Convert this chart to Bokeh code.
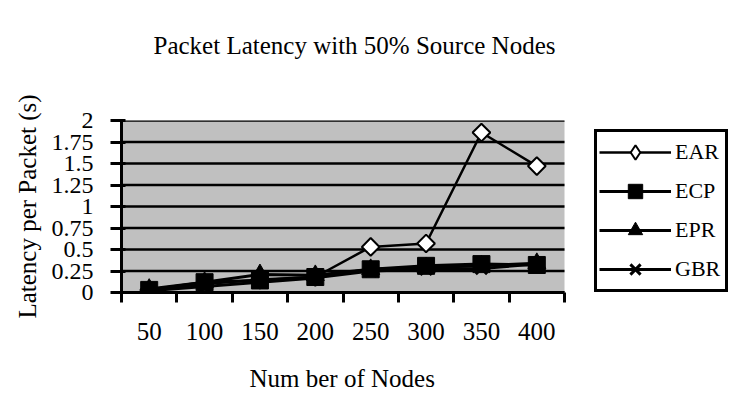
import math
from bokeh.plotting import figure
from bokeh.models import (FixedTicker, Legend, LegendItem, ColumnDataSource,
                          Range1d, BoxAnnotation, LinearAxis, Title)
from bokeh.embed import file_html
from bokeh.resources import INLINE

# ---- data ----
nodes = ["50", "100", "150", "200", "250", "300", "350", "400"]
ear = [0.03, 0.10, 0.15, 0.18, 0.53, 0.57, 1.86, 1.47]
ecp = [0.03, 0.12, 0.14, 0.18, 0.27, 0.31, 0.33, 0.32]
epr = [0.04, 0.12, 0.21, 0.20, 0.27, 0.29, 0.31, 0.34]
gbr = [0.02, 0.07, 0.12, 0.17, 0.25, 0.27, 0.28, 0.33]
y_ticks = [0, 0.25, 0.5, 0.75, 1, 1.25, 1.5, 1.75, 2]
y_tick_labels = ["0", "0.25", "0.5", "0.75", "1", "1.25", "1.5", "1.75", "2"]

FONT = "Liberation Serif"
N = len(nodes)

# layout (pixels): plot area 443 px wide, legend lives to its right
W, H = 735, 418
LEFT = 121
PLOT_W = 443
FRAME_W = W - LEFT
x_end = N * FRAME_W / PLOT_W

x_pos = [i + 0.5 for i in range(N)]
src = ColumnDataSource(dict(x=x_pos, ear=ear, ecp=ecp, epr=epr, gbr=gbr))

p = figure(width=W, height=H, output_backend="svg", toolbar_location=None,
           x_range=Range1d(0, x_end), y_range=Range1d(y_ticks[0], y_ticks[-1]))
p.min_border_left = LEFT
p.min_border_right = 0
p.min_border_top = 120
p.min_border_bottom = 126
p.background_fill_color = "white"
p.border_fill_color = "white"
p.outline_line_color = None

p.title.text = "Packet Latency with 50% Source Nodes"
p.title.text_font = FONT
p.title.text_font_size = "25px"
p.title.text_font_style = "normal"
p.title.text_color = "black"
p.title.align = "left"
p.title.vertical_align = "bottom"
p.title.offset = 32
p.title.standoff = 0

# x axis (the figure's own bottom axis)
xa = p.below[0]
xa.bounds = (0, N)
xa.ticker = FixedTicker(ticks=x_pos, minor_ticks=list(range(N + 1)))
xa.major_label_overrides = {x: n for x, n in zip(x_pos, nodes)}
xa.major_tick_out = 0
xa.major_tick_in = 0
xa.minor_tick_out = 10
xa.minor_tick_in = 0
xa.minor_tick_line_color = "black"
xa.minor_tick_line_width = 3
xa.axis_line_width = 3
xa.axis_line_color = "black"
xa.major_label_text_font = FONT
xa.major_label_text_font_size = "25px"
xa.major_label_text_color = "black"
xa.major_label_standoff = 20

# invisible spacer axis between the title and the plot area
spacer = LinearAxis(ticker=FixedTicker(ticks=x_pos[:1], minor_ticks=[]),
                    major_label_overrides={x_pos[0]: ""},
                    major_label_text_font_size="0px",
                    major_tick_out=62, major_tick_in=0, major_label_standoff=0,
                    axis_line_color=None, major_tick_line_color=None,
                    minor_tick_line_color=None)
p.add_layout(spacer, "above")

# plot area background
p.add_layout(BoxAnnotation(left=0, right=N, bottom=y_ticks[0], top=y_ticks[-1],
                           fill_color="#c0c0c0", fill_alpha=1, line_color=None,
                           level="underlay"))

p.add_layout(Title(text="Num ber of Nodes", text_font=FONT,
                   text_font_size="25px", text_font_style="normal",
                   text_color="black", align="left", vertical_align="top",
                   offset=128, standoff=45), "below")

# y axis
ya = p.left[0]
ya.ticker = FixedTicker(ticks=y_ticks, minor_ticks=[])
ya.major_label_overrides = {(int(t) if float(t).is_integer() else t): l
                            for t, l in zip(y_ticks, y_tick_labels)}
ya.major_tick_out = 11
ya.major_tick_in = 4
ya.major_tick_line_width = 3
ya.major_tick_line_color = "black"
ya.axis_line_width = 3
ya.axis_line_color = "black"
ya.major_label_text_font = FONT
ya.major_label_text_font_size = "24px"
ya.major_label_text_color = "black"
ya.major_label_standoff = 17
ya.axis_label = "Latency per Packet (s)"
ya.axis_label_text_font = FONT
ya.axis_label_text_font_size = "25px"
ya.axis_label_text_font_style = "normal"
ya.axis_label_text_color = "black"
ya.axis_label_standoff = 8

# horizontal grid lines, limited to the plot area
p.xgrid.visible = False
p.ygrid.visible = False
p.segment(x0=0, x1=N, y0=y_ticks, y1=y_ticks, line_color="black",
          line_width=2.5)

# series
ear_l = p.line("x", "ear", source=src, line_color="black", line_width=2.5)
p.scatter("x", "ear", source=src, marker="square", angle=math.pi / 4, size=12.5,
          fill_color="white", line_color="black", line_width=2)
ecp_l = p.line("x", "ecp", source=src, line_color="black", line_width=3)
ecp_m = p.scatter("x", "ecp", source=src, marker="square", size=17,
                  fill_color="black", line_color="black")
epr_l = p.line("x", "epr", source=src, line_color="black", line_width=3)
epr_m = p.scatter("x", "epr", source=src, marker="triangle", size=18,
                  fill_color="black", line_color="black")
gbr_l = p.line("x", "gbr", source=src, line_color="black", line_width=3)
gbr_m = p.scatter("x", "gbr", source=src, marker="x", size=16,
                  line_color="black", line_width=3)

# legend proxy for the diamond (legend markers are drawn unrotated)
ear_key = p.scatter(x=[float("nan")], y=[float("nan")], marker="diamond",
                    fill_color="white", line_color="black", line_width=2)

legend = Legend(items=[
    LegendItem(label="EAR", renderers=[ear_l, ear_key]),
    LegendItem(label="ECP", renderers=[ecp_l, ecp_m]),
    LegendItem(label="EPR", renderers=[epr_l, epr_m]),
    LegendItem(label="GBR", renderers=[gbr_l, gbr_m]),
], location=(PLOT_W + 30, 0))
legend.border_line_color = "black"
legend.border_line_width = 3
legend.border_line_alpha = 1
legend.background_fill_color = "white"
legend.background_fill_alpha = 1
legend.padding = 2
legend.spacing = 3
legend.glyph_height = 36
legend.glyph_width = 72
legend.label_standoff = 4
legend.label_width = 48
legend.label_text_font = FONT
legend.label_text_font_size = "22px"
legend.label_text_color = "black"
legend.margin = 0
p.add_layout(legend, "center")

open("out.html", "w").write(file_html(p, INLINE))
